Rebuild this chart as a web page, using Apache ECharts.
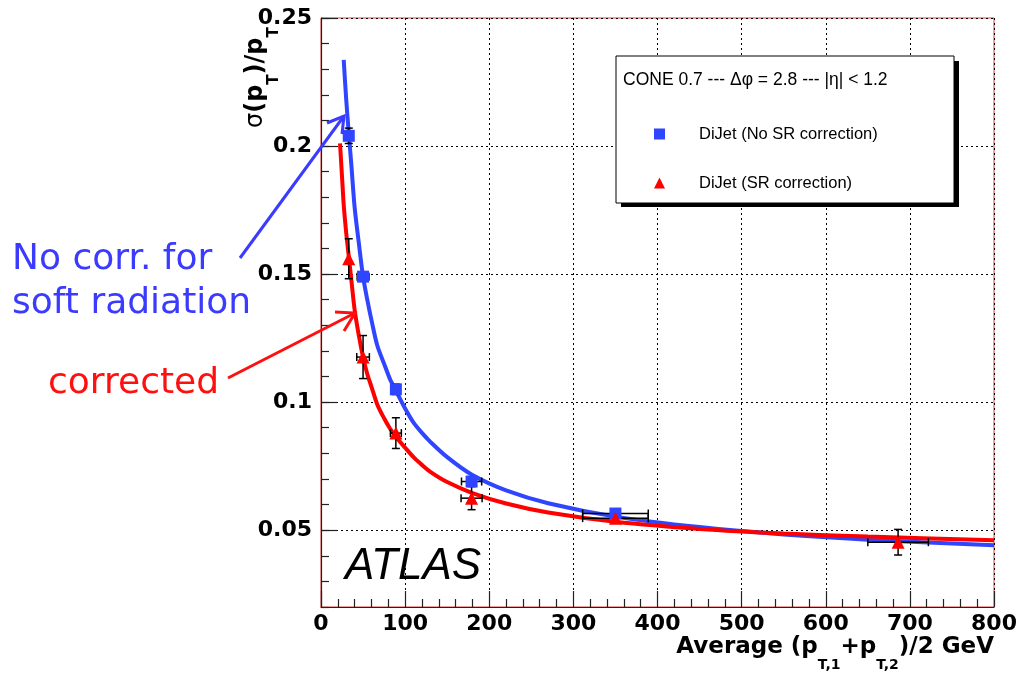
<!DOCTYPE html>
<html>
<head>
<meta charset="utf-8">
<script src="https://cdn.jsdelivr.net/npm/echarts@6/dist/echarts.min.js"></script>
<style>
  html, body { margin: 0; padding: 0; background: #ffffff; }
  #chart { width: 1022px; height: 673px; }
</style>
</head>
<body>
<div id="chart"></div>
<script>
// Measured relative jet resolution, no soft-radiation correction
const blueX    = [33, 50, 89, 179, 350];
const blueY    = [0.204, 0.149, 0.105, 0.069, 0.0565];
const blueXErr = [0, 7, 0, 12, 39];
const blueYErr = [0.003, 0.0015, 0.002, 0.0015, 0.001];

// Measured relative jet resolution, soft-radiation corrected
const redX    = [33, 50, 89, 179, 350, 686];
const redY    = [0.156, 0.1176, 0.0879, 0.0625, 0.0547, 0.0453];
const redXErr = [0, 7.5, 6.5, 12.5, 39, 36];
const redYErr = [0.0078, 0.0084, 0.006, 0.0045, 0.0015, 0.005];

// Fitted resolution curves
const blueFitX = [27, 30, 33, 36, 40, 45, 50, 55, 60, 67, 75, 82, 89, 100, 110, 120, 130, 150, 180, 220, 270, 350, 450, 550, 650, 800];
const blueFitY = [0.2336, 0.218, 0.205, 0.193, 0.176, 0.162, 0.149, 0.140, 0.132, 0.122, 0.115, 0.109, 0.1045, 0.0975, 0.092, 0.088, 0.0845, 0.0785, 0.0715, 0.0655, 0.0605, 0.0553, 0.0512, 0.0483, 0.0463, 0.0441];
const redFitX  = [22.6, 25, 27, 30, 33, 36, 40, 45, 50, 55, 60, 67, 75, 82, 89, 100, 110, 120, 130, 150, 180, 220, 270, 350, 450, 550, 650, 800];
const redFitY  = [0.201, 0.188, 0.177, 0.166, 0.157, 0.148, 0.136, 0.126, 0.1176, 0.111, 0.106, 0.099, 0.0937, 0.0897, 0.0865, 0.0822, 0.0785, 0.0755, 0.0728, 0.0688, 0.0645, 0.0604, 0.0569, 0.0533, 0.0505, 0.0487, 0.0475, 0.0461];

// Axis ticks
const xTicks = [0, 100, 200, 300, 400, 500, 600, 700, 800];
const yTicks = [0.05, 0.1, 0.15, 0.2, 0.25];

const BLUE = '#2f45ff';
const RED = '#ff0000';
const BOLD = 'DejaVu Sans';

const pts = (xs, ys) => xs.map((x, i) => [x, ys[i]]);
const errs = (xs, ys, ex, ey) => xs.map((x, i) => [x, ys[i], ex[i], ey[i]]);

function renderErrorBar(params, api) {
  const x = api.value(0), y = api.value(1), ex = api.value(2), ey = api.value(3);
  const cap = 4;
  const style = { stroke: '#000', lineWidth: 1.5 };
  const children = [];
  if (ey > 0) {
    const t = api.coord([x, y + ey]);
    const b = api.coord([x, y - ey]);
    children.push({ type: 'line', shape: { x1: t[0], y1: t[1], x2: b[0], y2: b[1] }, style });
    children.push({ type: 'line', shape: { x1: t[0] - cap, y1: t[1], x2: t[0] + cap, y2: t[1] }, style });
    children.push({ type: 'line', shape: { x1: b[0] - cap, y1: b[1], x2: b[0] + cap, y2: b[1] }, style });
  }
  if (ex > 0) {
    const l = api.coord([x - ex, y]);
    const r = api.coord([x + ex, y]);
    children.push({ type: 'line', shape: { x1: l[0], y1: l[1], x2: r[0], y2: r[1] }, style });
    children.push({ type: 'line', shape: { x1: l[0], y1: l[1] - cap, x2: l[0], y2: l[1] + cap }, style });
    children.push({ type: 'line', shape: { x1: r[0], y1: r[1] - cap, x2: r[0], y2: r[1] + cap }, style });
  }
  return { type: 'group', children };
}

const chart = echarts.init(document.getElementById('chart'), null, { renderer: 'canvas' });

const option = {
  backgroundColor: '#ffffff',
  animation: false,
  grid: {
    left: 321, right: 28, top: 18, bottom: 66,
    show: true, borderColor: '#e04040', borderWidth: 1, backgroundColor: 'transparent'
  },
  xAxis: {
    type: 'value', min: 0, max: 800, interval: 100,
    axisLine: { show: true, onZero: false, lineStyle: { color: '#222', width: 1.2 } },
    axisTick: { show: true, inside: true, length: 16, lineStyle: { color: '#222', width: 1.2 } },
    minorTick: { show: true, splitNumber: 5, length: 8, lineStyle: { color: '#222', width: 1.2 } },
    splitLine: { show: true, lineStyle: { color: '#000', width: 1, type: [2, 3] } },
    axisLabel: {
      customValues: xTicks,
      fontFamily: BOLD, fontWeight: 'bold', fontSize: 22, color: '#000', margin: 6,
      showMinLabel: true, showMaxLabel: true
    }
  },
  yAxis: [
    {
      type: 'value', min: 0.02, max: 0.25, interval: 0.01, position: 'left',
      axisLine: { show: true, onZero: false, lineStyle: { color: '#222', width: 1.2 } },
      axisTick: { show: true, inside: true, length: 8, lineStyle: { color: '#222', width: 1.2 } },
      axisLabel: { show: false },
      splitLine: { show: false }
    },
    {
      type: 'value', min: 0.02, max: 0.25, interval: 0.01, position: 'left',
      axisLine: { show: false },
      axisTick: { show: true, inside: true, length: 16, customValues: yTicks, lineStyle: { color: '#222', width: 1.2 } },
      axisLabel: {
        customValues: yTicks,
        fontFamily: BOLD, fontWeight: 'bold', fontSize: 22, color: '#000', margin: 9
      },
      splitLine: { show: true, lineStyle: { color: '#000', width: 1, type: [2, 3] } }
    }
  ],
  legend: {
    orient: 'vertical', left: 649, top: 119, z: 10,
    itemWidth: 11, itemHeight: 11, itemGap: 29, selectedMode: false,
    textStyle: { fontFamily: 'Liberation Sans', fontSize: 16.5, color: '#000', padding: [0, 0, 0, 29], lineHeight: 20 },
    data: [
      { name: 'DiJet (No SR correction)', icon: 'rect' },
      { name: 'DiJet (SR correction)', icon: 'triangle' }
    ]
  },
  series: [
    {
      name: 'fit no SR', type: 'line', smooth: 0.3, showSymbol: false,
      data: pts(blueFitX, blueFitY), lineStyle: { color: BLUE, width: 4 }, itemStyle: { color: BLUE },
      z: 2, silent: true
    },
    {
      name: 'fit SR', type: 'line', smooth: 0.3, showSymbol: false,
      data: pts(redFitX, redFitY), lineStyle: { color: RED, width: 4 }, itemStyle: { color: RED },
      z: 2, silent: true
    },
    {
      name: 'err no SR', type: 'custom', renderItem: renderErrorBar, clip: false,
      data: errs(blueX, blueY, blueXErr, blueYErr), encode: { x: 0, y: 1 }, z: 3, silent: true
    },
    {
      name: 'err SR', type: 'custom', renderItem: renderErrorBar, clip: false,
      data: errs(redX, redY, redXErr, redYErr), encode: { x: 0, y: 1 }, z: 3, silent: true
    },
    {
      name: 'DiJet (No SR correction)', type: 'scatter', symbol: 'rect', symbolSize: 12,
      data: pts(blueX, blueY), itemStyle: { color: BLUE, opacity: 1 }, z: 4
    },
    {
      name: 'DiJet (SR correction)', type: 'scatter', symbol: 'triangle', symbolSize: 13,
      data: pts(redX, redY), itemStyle: { color: RED, opacity: 1 }, z: 5
    }
  ],
  graphic: [
    // legend frame with drop shadow
    { type: 'rect', z: 8, shape: { x: 621, y: 61, width: 338, height: 146 }, style: { fill: '#000' } },
    { type: 'rect', z: 9, shape: { x: 616, y: 56, width: 338, height: 147 }, style: { fill: '#fff', stroke: '#000', lineWidth: 1 } },
    { type: 'text', z: 10, x: 623, y: 80,
      style: { text: 'CONE 0.7 --- \u0394\u03c6 = 2.8 --- |\u03b7| < 1.2', fontFamily: 'Liberation Sans', fontSize: 17.5, fill: '#000', verticalAlign: 'middle' } },

    // experiment label
    { type: 'text', z: 6, x: 345, y: 567,
      style: { text: 'ATLAS', fontFamily: 'Liberation Sans', fontStyle: 'italic', fontSize: 44, fill: '#000', verticalAlign: 'middle' } },

    // annotations
    { type: 'text', z: 6, x: 12, y: 260,
      style: { text: 'No corr. for', fontFamily: 'DejaVu Sans', fontSize: 36, fill: '#3b3bff', verticalAlign: 'middle' } },
    { type: 'text', z: 6, x: 12, y: 304,
      style: { text: 'soft radiation', fontFamily: 'DejaVu Sans', fontSize: 36, fill: '#3b3bff', verticalAlign: 'middle' } },
    { type: 'text', z: 6, x: 48, y: 384,
      style: { text: 'corrected', fontFamily: 'DejaVu Sans', fontSize: 36, fill: '#ff1010', verticalAlign: 'middle' } },
    { type: 'polyline', z: 6, shape: { points: [[240, 258], [344, 116]] }, style: { stroke: '#3b3bff', lineWidth: 3, fill: null } },
    { type: 'polyline', z: 6, shape: { points: [[327, 123], [344, 116], [342, 134]] }, style: { stroke: '#3b3bff', lineWidth: 3, fill: null } },
    { type: 'polyline', z: 6, shape: { points: [[228, 378], [355, 313]] }, style: { stroke: '#ff1010', lineWidth: 3, fill: null } },
    { type: 'polyline', z: 6, shape: { points: [[335, 312], [355, 313], [344, 331]] }, style: { stroke: '#ff1010', lineWidth: 3, fill: null } },

    // axis titles: subscripts are bottom-aligned in a taller line box so they drop below the baseline
    { type: 'text', z: 6, x: 244, y: 128, rotation: Math.PI / 2,
      style: {
        text: '{g|\u03c3}{m|(p}{s|T}{m|)/p}{s|T}',
        align: 'left', verticalAlign: 'top',
        rich: {
          g: { fontFamily: BOLD, fontSize: 24, lineHeight: 24, verticalAlign: 'top', fill: '#000' },
          m: { fontFamily: BOLD, fontWeight: 'bold', fontSize: 24, lineHeight: 24, verticalAlign: 'top', fill: '#000' },
          s: { fontFamily: BOLD, fontWeight: 'bold', fontSize: 15, lineHeight: 38, verticalAlign: 'bottom', fill: '#000' }
        }
      } },
    { type: 'text', z: 6, x: 994, y: 636,
      style: {
        text: '{m|Average (p}{s|T,1}{m|+p}{s|T,2}{m|)/2 GeV}',
        align: 'right', verticalAlign: 'top',
        rich: {
          m: { fontFamily: BOLD, fontWeight: 'bold', fontSize: 23, lineHeight: 23, verticalAlign: 'top', fill: '#000' },
          s: { fontFamily: BOLD, fontWeight: 'bold', fontSize: 14, lineHeight: 36, verticalAlign: 'bottom', fill: '#000' }
        }
      } }
  ]
};

chart.setOption(option);
</script>
</body>
</html>
